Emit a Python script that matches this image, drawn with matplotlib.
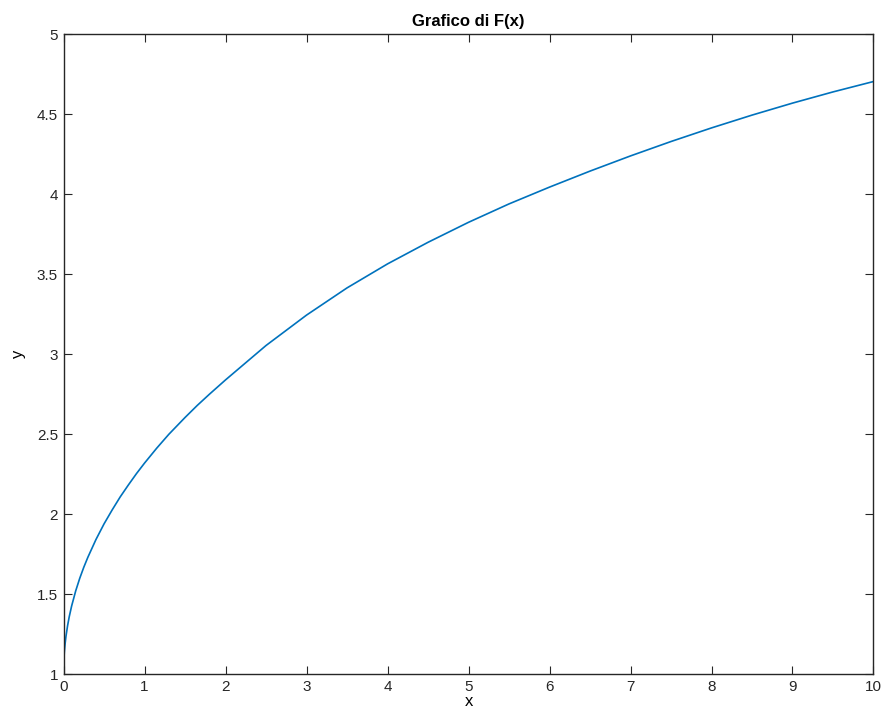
import matplotlib
matplotlib.use("Agg")
import matplotlib.pyplot as plt
import numpy as np

# values
x_vals = [0.005, 0.01, 0.02, 0.03, 0.05, 0.07, 0.1, 0.15, 0.2, 0.25, 0.3, 0.4,
          0.5, 0.6, 0.7, 0.8, 0.9, 1.0, 1.15, 1.3, 1.5, 1.65, 1.8, 2.0,
          2.5, 3.0, 3.5, 4.0, 4.5, 5.0, 5.5, 6.0, 6.5, 7.0,
          7.5, 8.0, 8.5, 9.0, 9.5, 10.0]
y_vals = [1.099, 1.14, 1.194, 1.237, 1.304, 1.359, 1.427, 1.521, 1.60, 1.669, 1.731, 1.842,
          1.94, 2.027, 2.109, 2.183, 2.254, 2.32, 2.413, 2.50, 2.605, 2.68, 2.75, 2.84,
          3.055, 3.245, 3.415, 3.565, 3.70, 3.825, 3.94, 4.045, 4.145, 4.24,
          4.33, 4.415, 4.495, 4.57, 4.64, 4.705]

x_ticks = np.arange(0, 11, 1)
y_ticks = [1, 1.5, 2, 2.5, 3, 3.5, 4, 4.5, 5]
y_labels = ['1', '1.5', '2', '2.5', '3', '3.5', '4', '4.5', '5']

plt.rcParams['font.family'] = ['Liberation Sans', 'DejaVu Sans']

fig = plt.figure(figsize=(8.85, 7.18), dpi=100)
ax = fig.add_axes([0.0718, 0.0609, 0.9152, 0.8913])

ax.plot(x_vals, y_vals, color='#0072BD', linewidth=1.2)

ax.set_xlim(0, 10)
ax.set_ylim(1, 5)
ax.set_xticks(x_ticks)
ax.set_yticks(y_ticks)
ax.set_yticklabels(y_labels)
ax.tick_params(direction='in', length=6, width=0.8, colors='#262626',
               labelsize=11, top=True, right=True, pad=4)
for s in ax.spines.values():
    s.set_color('#262626')
    s.set_linewidth(1.0)

ax.set_title('Grafico di F(x)', fontsize=12, fontweight='bold', pad=6)
ax.set_xlabel('x', fontsize=12, labelpad=0)
ax.set_ylabel('y', fontsize=12, labelpad=8)

fig.savefig('out.png', dpi=100)
